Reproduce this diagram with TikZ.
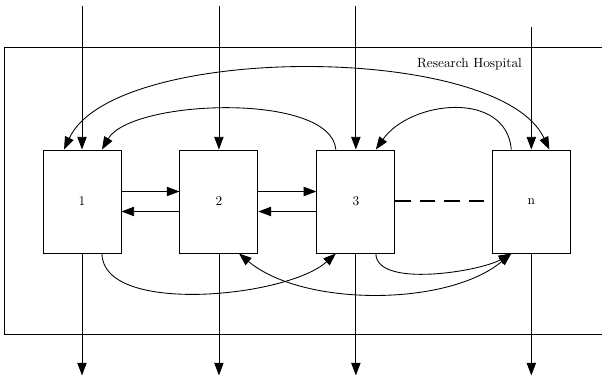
\documentclass[tikz,border=0pt]{standalone}
\usepackage{mathpazo}
\usetikzlibrary{arrows.meta,positioning}

\begin{document}
\begin{tikzpicture}[
  x=0.75pt, y=0.75pt,
  node distance=43.5pt,
  unit/.style={draw, line width=0.7pt, minimum width=58.5pt, minimum height=77.25pt, inner sep=0pt},
  flow/.style={-{Triangle[length=9.5pt,width=7pt]}, line width=0.65pt},
  both/.style={{Triangle[length=9.5pt,width=7pt]}-{Triangle[length=9.5pt,width=7pt]}, line width=0.65pt},
  link/.style={line width=1.5pt, dash pattern=on 11.6pt off 6.75pt, shorten >=6pt}
]
  \useasboundingbox (0,0) rectangle (602,377);
  % hospital frame, open on the right
  \draw[line width=0.7pt] (602,329.7) -- (4.5,329.7) -- (4.5,42.7) -- (602,42.7);
  \node (hosp) at (469.5,313) {Research Hospital};

  \node[unit] (u1) at (82,175.5) {1};
  \node[unit, right=of u1] (u2) {2};
  \node[unit, right=of u2] (u3) {3};
  \node[unit, right=72.4pt of u3] (un) {n};

  % in and out of each unit
  \foreach \u/\h in {u1/108pt, u2/108pt, u3/108pt, un/92.25pt} {
    \coordinate[above=\h of \u.north] (\u-in);
    \coordinate[below=91.5pt of \u.south] (\u-out);
    \draw[flow] (\u-in) -- (\u.north);
    \draw[flow] (\u.south) -- (\u-out);
  }

  % neighbours
  \draw[flow] ([yshift=7.5pt]u1.east) -- ([yshift=7.5pt]u2.west);
  \draw[flow] ([yshift=-7.5pt]u2.west) -- ([yshift=-7.5pt]u1.east);
  \draw[flow] ([yshift=7.5pt]u2.east) -- ([yshift=7.5pt]u3.west);
  \draw[flow] ([yshift=-7.5pt]u3.west) -- ([yshift=-7.5pt]u2.east);
  \draw[link] (u3.east) -- (un.west);

  % transfers above
  \draw[both] ([xshift=13.5pt]un.north) .. controls +(115:118) and +(65:118) .. ([xshift=-13.5pt]u1.north);
  \draw[flow] ([xshift=-15pt]u3.north) .. controls +(95:58) and +(60:58) .. ([xshift=15pt]u1.north);
  \draw[flow] ([xshift=-15pt]un.north) .. controls +(95:60) and +(55:60) .. ([xshift=15pt]u3.north);

  % transfers below
  \draw[flow] ([xshift=15pt]u1.south) .. controls +(-90:62) and +(222:66) .. ([xshift=-15pt]u3.south);
  \draw[flow] ([xshift=15pt]u3.south) .. controls +(-90:35) and +(210:36) .. ([xshift=-15pt]un.south);
  \draw[both] ([xshift=15pt]u2.south) .. controls +(-40:83) and +(220:83) .. ([xshift=-15pt]un.south);
\end{tikzpicture}
\end{document}
